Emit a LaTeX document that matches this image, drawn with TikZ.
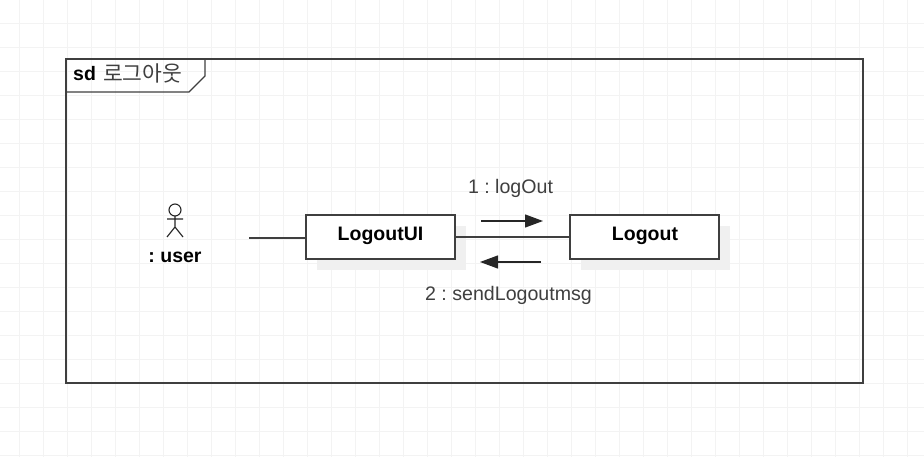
\documentclass[tikz,border=0pt]{standalone}
\usepackage{fontspec}
\setmainfont{Liberation Sans}
\newfontfamily\krfont{Noto Sans CJK KR}
\usetikzlibrary{arrows.meta}
\frenchspacing
\definecolor{gridc}{HTML}{F3F3F3}
\definecolor{inkc}{HTML}{3F3F3F}
\definecolor{shadowc}{HTML}{F0F0F0}
\tikzset{
  x=1pt,y=-1pt,
  frameline/.style={draw=inkc,line width=1.4pt},
  objbox/.style={draw=inkc,line width=1.4pt,fill=white,minimum width=149pt,minimum height=44pt,inner sep=0pt},
  shadowbox/.style={fill=shadowc,minimum width=149pt,minimum height=44pt,inner sep=0pt},
  link/.style={draw=inkc,line width=1.4pt},
  msg/.style={draw=black!85,line width=1.2pt,-{Triangle[length=18pt,width=13pt]}},
  msglabel/.style={text=inkc,inner sep=0pt,font=\fontsize{19.6}{22}\selectfont},
  boldlabel/.style={inner sep=0pt,anchor=base,font=\fontsize{19.5}{22}\selectfont\bfseries},
  actorline/.style={draw=black!85,line width=1.1pt},
}
\begin{document}
\begin{tikzpicture}
\useasboundingbox (0,0) rectangle (924,457);
\fill[white] (0,0) rectangle (924,457);
% grid
\foreach \gx in {0,...,38}{\draw[gridc,line width=1pt] ({19.5+24*\gx},0) -- ({19.5+24*\gx},457);}
\foreach \gy in {0,...,19}{\draw[gridc,line width=1pt] (0,{24*\gy-0.3}) -- (924,{24*\gy-0.3});}
% frame
\draw[frameline] (66,59) rectangle (863,383);
\draw[frameline] (66,92) -- (189,92) -- (205,76) -- (205,59);
\node[boldlabel,anchor=base west] (sd) at (73,81) {sd};
\node[anchor=base west,inner sep=0pt,text=inkc,font=\krfont\fontsize{21.5}{24}\selectfont] (title) at (103,82) {로그아웃};
% shadows
\node[shadowbox] (s1) at (391.5,248) {};
\node[shadowbox] (s2) at (655.5,248) {};
% objects and links
\coordinate (stub) at (249,238);
\node[objbox] (ui) at (380.5,237) {};
\node[objbox] (lo) at (644.5,237) {};
\node[boldlabel] (uit) at (380.5,241) {LogoutUI};
\node[boldlabel] (lot) at (645,241) {Logout};
\draw[link] (stub) -- (stub -| ui.west);
\draw[link] (ui.east) -- (lo.west);
% messages
\coordinate (m1a) at (481,221); \coordinate (m1b) at (543,221);
\coordinate (m2a) at (541,262); \coordinate (m2b) at (480,262);
\draw[msg] (m1a) -- (m1b);
\draw[msg] (m2a) -- (m2b);
\node[msglabel,anchor=base] (l1) at (510.5,194) {1 : logOut};
\node[msglabel,anchor=base] (l2) at (508.5,300) {2 : sendLogoutmsg};
% actor
\draw[actorline] (175,210) circle (6);
\draw[actorline] (175,216) -- (175,227) (167,219) -- (183,219) (167,237) -- (175,227) -- (183,237);
\node[boldlabel] (usr) at (175,262) {: user};
\end{tikzpicture}
\end{document}
